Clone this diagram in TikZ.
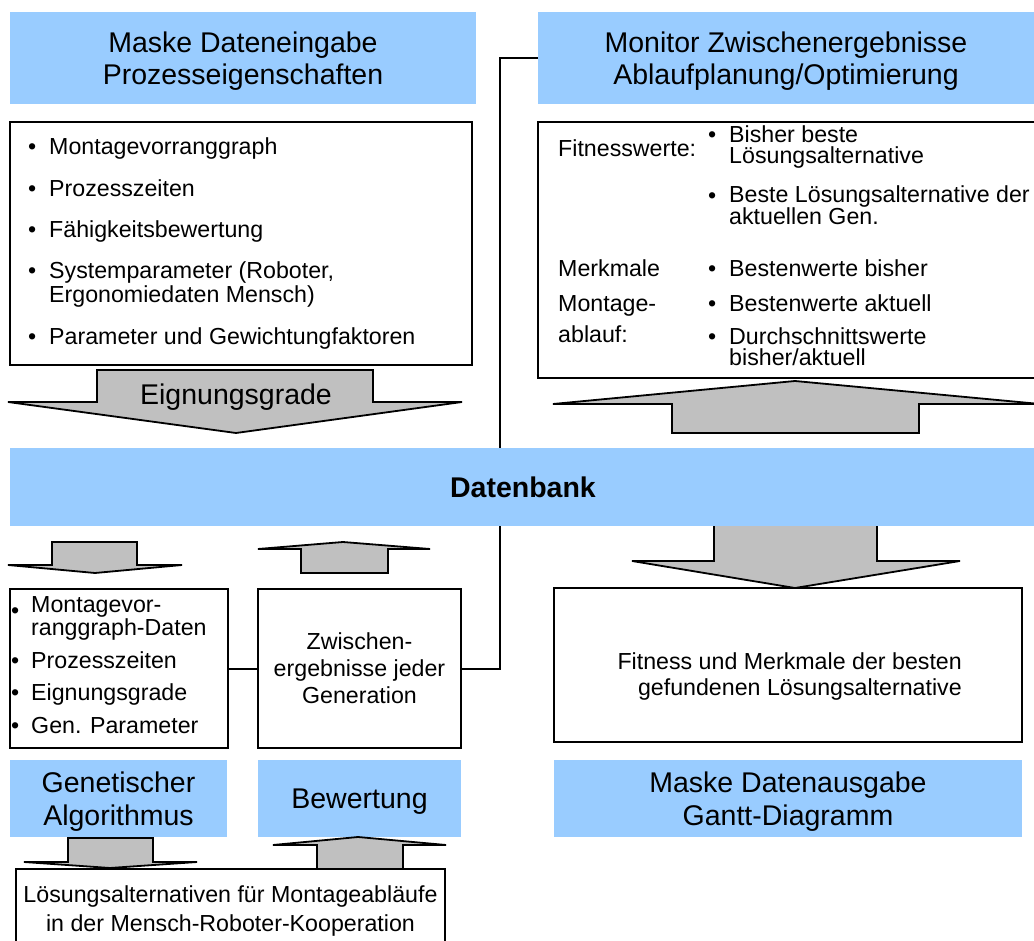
\documentclass[tikz,border=0pt]{standalone}
\usepackage{fontspec}
\setmainfont{Liberation Sans}
\usepackage{tikz}

\definecolor{hellblau}{RGB}{153,204,255}
\definecolor{pfeilgrau}{RGB}{192,192,192}
\newcommand{\gross}{\fontsize{28.5}{32}\selectfont}
\newcommand{\klein}{\fontsize{23.2}{27}\selectfont}
% Blockpfeil: Schaft x1,x2, Schaftende y, Fluegel x1,x2, Fluegel y, Spitze
\newcommand{\blockpfeil}[7]{%
  \draw[pfeil] (#1,#3) -- (#2,#3) -- (#2,#6) -- (#5,#6) -- #7 -- (#4,#6) -- (#1,#6) -- cycle;}

\tikzset{
  maske/.style={fill=hellblau, inner sep=0pt, align=center, font=\gross, text depth=0pt},
  kasten/.style={draw, line width=2pt, fill=white, inner sep=0pt},
  eintrag/.style={anchor=base west, inner sep=0pt, align=left, font=\klein},
  punkt/.style={anchor=base west, inner sep=0pt, font=\klein},
  pfeil/.style={draw, fill=pfeilgrau, line width=1.8pt, line join=miter},
  linie/.style={line width=2pt},
}

\begin{document}
\begin{tikzpicture}[x=1pt, y=-1pt]
\path[use as bounding box, clip] (0,0) rectangle (1034,941);

% Eingabe oben links
\node[maske, minimum width=466, minimum height=92] (ein) at (243,58) {Maske Dateneingabe\\Prozesseigenschaften};
\node[kasten, minimum width=462, minimum height=243] (par) at (241,243.5) {};
% Punkt-y / letzte Zeile-y / Text
\foreach \y/\z/\t [count=\i] in {155/155/Montagevorranggraph, 197/197/Prozesszeiten, 238/238/Fähigkeitsbewertung,
    279/303/{Systemparameter (Roboter,\\Ergonomiedaten Mensch)}, 345/345/Parameter und Gewichtungfaktoren}{
  \node[punkt] (pp\i) at (28,\y) {•};
  \node[eintrag, font=\fontsize{23.2}{24}\selectfont] (pt\i) at (49,\z) {\t};
}
\blockpfeil{97}{373}{370}{8}{462}{402}{(236,433)}
\node[anchor=base, font=\gross, inner sep=0pt] (eig) at (236,405) {Eignungsgrade};

% Monitor oben rechts
\node[maske, minimum width=496, minimum height=92] (mon) at (786,58) {Monitor Zwischenergebnisse\\Ablaufplanung/Optimierung};
\node[kasten, minimum width=510, minimum height=256] (fit) at (793,250) {};
\foreach \y/\t [count=\i] in {157/Fitnesswerte:, 277/Merkmale, 312/Montage-, 343/ablauf:}{
  \node[eintrag] (fl\i) at (558,\y) {\t};
}
\foreach \y/\z/\t [count=\i] in {143/164/{Bisher beste\\Lösungsalternative}, 204/225/{Beste Lösungsalternative der\\aktuellen Gen.},
    277/277/Bestenwerte bisher, 312/312/Bestenwerte aktuell, 345/366/{Durchschnittswerte\\bisher/aktuell}}{
  \node[punkt] (fp\i) at (708,\y) {•};
  \node[eintrag, font=\fontsize{23.2}{21}\selectfont] (ft\i) at (729,\z) {\t};
}
\blockpfeil{672}{919}{433}{553}{1040}{404}{(795,381)}

% unten links
\blockpfeil{52}{137}{542}{8}{182}{565}{(95,573)}
\blockpfeil{301}{388}{573}{258}{430}{549}{(343,542)}
\node[kasten, minimum width=218, minimum height=159] (gad) at (119,668.5) {};
\foreach \y/\z/\t [count=\i] in {618/635/{Montagevor-\\ranggraph-Daten}, 668/668/Prozesszeiten, 700/700/Eignungsgrade, 733/733/Gen. Parameter}{
  \node[punkt] (gp\i) at (11,\y) {•};
  \node[eintrag, font=\fontsize{23.2}{17.5}\selectfont] (gt\i) at (31,\z) {\t};
}
\node[kasten, minimum width=203, minimum height=159, align=center, text depth=0pt,
  font=\fontsize{23.2}{27}\selectfont] (zwi) at (359.5,668.5) {Zwischen-\\ergebnisse jeder\\Generation};
\draw[linie] (gad.east) -- (zwi.west);
\draw[linie] (mon.west) -- ++(-38,0) |- (zwi.east);

\node[maske, minimum width=217, minimum height=77, font=\fontsize{28.5}{32.5}\selectfont] (ga) at (118.5,798.5) {Genetischer\\Algorithmus};
\node[maske, minimum width=203, minimum height=77] (bew) at (359.5,798.5) {Bewertung};
\blockpfeil{68}{153}{838}{24}{197}{862}{(110,868)}
\blockpfeil{317}{403}{869}{273}{446}{845}{(358,837)}
\node[kasten, minimum width=429, minimum height=79, align=center, text depth=0pt,
  font=\fontsize{23.2}{29}\selectfont] (loe) at (230.5,908.5) {Lösungsalternativen für Montageabläufe\\in der Mensch-Roboter-Kooperation};

% unten rechts
\blockpfeil{714}{877}{510}{632}{960}{561}{(795,588)}
\node[kasten, minimum width=468, minimum height=154] (bes) at (788,665) {};
\node[anchor=base east, align=right, inner sep=0pt, font=\fontsize{23.2}{26}\selectfont] (best) at (962,695)
  {Fitness und Merkmale der besten\\gefundenen Lösungsalternative};
\node[maske, minimum width=468, minimum height=77, font=\fontsize{28.5}{33}\selectfont] (aus) at (788,798.5) {Maske Datenausgabe\\Gantt-Diagramm};

% Datenbank
\node[maske, font=\gross\bfseries, minimum width=1026, minimum height=78] (db) at (523,487) {Datenbank};
\end{tikzpicture}
\end{document}
